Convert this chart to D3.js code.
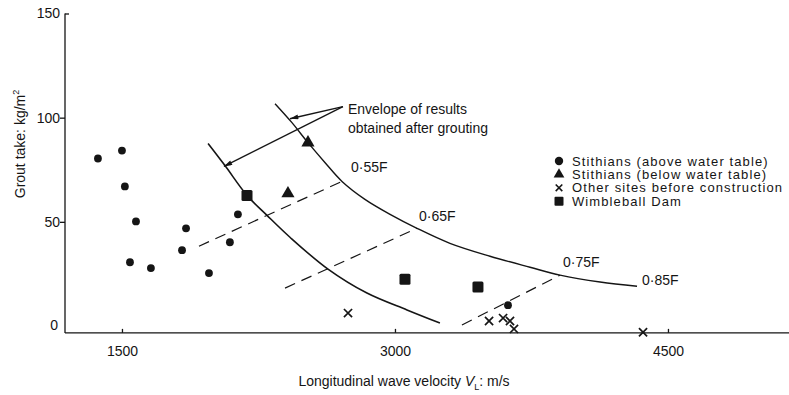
<!DOCTYPE html>
<html>
<head>
<meta charset="utf-8">
<script src="https://cdn.jsdelivr.net/npm/d3@7"></script>
<style>
  html, body { margin: 0; padding: 0; background: #fff; }
  svg { display: block; font-family: "Liberation Sans", Arial, Helvetica, sans-serif; }
  text { fill: #151515; }
</style>
</head>
<body>
<svg id="chart" width="789" height="395"></svg>
<script>
// ---------------- data ----------------
const xTicks = [1500, 3000, 4500];
const yTicks = [0, 50, 100, 150];

// Stithians (above water table)
const aboveVel   = [1368, 1500, 1516, 1577, 1852, 1830, 1544, 1659, 1978, 2137, 2093, 3621];
const aboveGrout = [80.4, 84.2, 67.0, 50.2, 46.9, 36.4, 30.6, 27.8, 25.4, 53.6, 40.2, 10.0];

// Stithians (below water table)
const belowVel   = [2522, 2412];
const belowGrout = [88.0, 63.6];

// Other sites before construction
const otherVel   = [2742, 3517, 3594, 3632, 3654, 4363];
const otherGrout = [6.2, 2.4, 3.8, 2.4, -1.4, -3.0];

// Wimbleball Dam
const wimbVel   = [2187, 3055, 3456];
const wimbGrout = [62.7, 22.5, 18.7];

// Envelope curves
const rightEnvVel   = [2341, 2434, 2522, 2615, 2709, 2835, 2973, 3121, 3302, 3522, 3742, 3907, 4127, 4330];
const rightEnvGrout = [106.7, 97.6, 88.0, 78.5, 69.4, 60.8, 53.6, 46.9, 39.7, 33.5, 28.2, 24.4, 21.1, 19.1];
const leftEnvVel    = [1973, 2066, 2187, 2297, 2423, 2632, 2846, 3066, 3247];
const leftEnvGrout  = [87.6, 77.0, 62.7, 53.1, 42.6, 27.3, 15.8, 7.7, 1.4];

// Dashed iso-lines (start / end) and their labels
const isoLabels   = ["0·55F", "0·65F", "0·75F"];
const isoStartVel = [1923, 2396, 3368];
const isoStartGr  = [38.3, 18.2, 0.5];
const isoEndVel   = [2709, 3121, 3907];
const isoEndGr    = [69.4, 46.9, 24.4];
const endLabel    = "0·85F";

// Annotation arrows
const annoText   = ["Envelope of results", "obtained after grouting"];
const annoFrom   = [2714, 105.3];
const annoToVel  = [2423, 2060];
const annoToGr   = [99.5, 76.6];

const legendLabels = [
  "Stithians (above water table)",
  "Stithians (below water table)",
  "Other sites before construction",
  "Wimbleball Dam"
];

// ---------------- layout ----------------
const svg = d3.select("#chart");
const ink = "#151515";

const x = d3.scaleLinear().domain([1187, 5165]).range([65, 789]);
const y = d3.scaleLinear().domain([0, 150]).range([326, 13.5]);
const yBase = -3.3;

// axes lines
svg.append("line")
  .attr("x1", x(1187)).attr("x2", x(5165))
  .attr("y1", y(yBase)).attr("y2", y(yBase))
  .attr("stroke", ink).attr("stroke-width", 1.3);
svg.append("line")
  .attr("x1", x(1187)).attr("x2", x(1187))
  .attr("y1", y(yBase)).attr("y2", y(150))
  .attr("stroke", ink).attr("stroke-width", 1.3);

// x axis
const xAxis = svg.append("g")
  .attr("transform", `translate(0,${y(yBase)})`)
  .call(d3.axisBottom(x).tickValues(xTicks).tickFormat(d3.format("d"))
        .tickSizeInner(-4).tickSizeOuter(0).tickPadding(13));
xAxis.select(".domain").remove();
xAxis.selectAll("line").attr("stroke", ink).attr("stroke-width", 1.3);
xAxis.selectAll("text").attr("font-size", 14).attr("font-family", null).style("fill", ink);

// y axis
const yAxis = svg.append("g")
  .attr("transform", `translate(${x(1187)},0)`)
  .call(d3.axisLeft(y).tickValues(yTicks).tickFormat(d3.format("d"))
        .tickSizeInner(5).tickSizeOuter(0).tickPadding(0));
yAxis.select(".domain").remove();
yAxis.selectAll("line").attr("stroke", ink).attr("stroke-width", 1.3);
yAxis.selectAll(".tick").filter(d => d === 0).select("line").remove();
yAxis.selectAll(".tick").filter(d => d === 150).select("line").attr("x2", 4);
yAxis.selectAll(".tick").filter(d => d === 0).select("text").attr("y", -1).attr("x", -7);
yAxis.selectAll("text").attr("font-size", 14).attr("font-family", null).style("fill", ink);

// axis titles
const xt = svg.append("text")
  .attr("x", 404).attr("y", 386)
  .attr("text-anchor", "middle").attr("font-size", 14);
xt.append("tspan").text("Longitudinal wave velocity ");
xt.append("tspan").attr("font-style", "italic").text("V");
xt.append("tspan").attr("font-size", 9).attr("dy", 4).text("L");
xt.append("tspan").attr("dy", -4).text(": m/s");

const yt = svg.append("text")
  .attr("transform", "translate(25,144) rotate(-90)")
  .attr("text-anchor", "middle").attr("font-size", 14);
yt.append("tspan").text("Grout take: kg/m");
yt.append("tspan").attr("font-size", 9).attr("dy", -6).text("2");

// ---------------- curves ----------------
const line = d3.line().x(d => x(d[0])).y(d => y(d[1])).curve(d3.curveCatmullRom.alpha(0.5));

svg.append("path")
  .attr("d", line(rightEnvVel.map((v, i) => [v, rightEnvGrout[i]])))
  .attr("fill", "none").attr("stroke", ink).attr("stroke-width", 1.4);
svg.append("path")
  .attr("d", line(leftEnvVel.map((v, i) => [v, leftEnvGrout[i]])))
  .attr("fill", "none").attr("stroke", ink).attr("stroke-width", 1.6);

// dashed iso-lines
isoLabels.forEach((lab, i) => {
  svg.append("line")
    .attr("x1", x(isoStartVel[i])).attr("y1", y(isoStartGr[i]))
    .attr("x2", x(isoEndVel[i])).attr("y2", y(isoEndGr[i]))
    .attr("stroke", ink).attr("stroke-width", 1.2)
    .attr("stroke-dasharray", "11,7");
});
const isoOffsets = [[9, -9], [2, -7], [3, -8]];
isoLabels.forEach((lab, i) => {
  svg.append("text")
    .attr("x", x(isoEndVel[i]) + isoOffsets[i][0])
    .attr("y", y(isoEndGr[i]) + isoOffsets[i][1])
    .attr("font-size", 14).text(lab);
});
const lastR = rightEnvVel.length - 1;
svg.append("text")
  .attr("x", x(rightEnvVel[lastR]) + 5)
  .attr("y", y(rightEnvGrout[lastR]) - 1)
  .attr("font-size", 14).text(endLabel);

// ---------------- annotation ----------------
svg.append("defs").append("marker")
  .attr("id", "arr").attr("viewBox", "0 0 10 6")
  .attr("refX", 10).attr("refY", 3)
  .attr("markerWidth", 10).attr("markerHeight", 5)
  .attr("markerUnits", "userSpaceOnUse")
  .attr("orient", "auto")
  .append("path").attr("d", "M0,0 L10,3 L0,6 Z").attr("fill", ink);

annoToVel.forEach((v, i) => {
  svg.append("line")
    .attr("x1", x(annoFrom[0])).attr("y1", y(annoFrom[1]))
    .attr("x2", x(v)).attr("y2", y(annoToGr[i]))
    .attr("stroke", ink).attr("stroke-width", 1.4)
    .attr("marker-end", "url(#arr)");
});
annoText.forEach((t, i) => {
  svg.append("text")
    .attr("x", x(annoFrom[0]) + 5)
    .attr("y", y(annoFrom[1]) + 7 + i * 19)
    .attr("font-size", 14).text(t);
});

// ---------------- points ----------------
const sym = (type, size) => d3.symbol().type(type).size(size)();

svg.append("g").selectAll("circle")
  .data(aboveVel.map((v, i) => [v, aboveGrout[i]]))
  .join("circle")
  .attr("cx", d => x(d[0])).attr("cy", d => y(d[1]))
  .attr("r", 3.9).attr("fill", ink);

svg.append("g").selectAll("path")
  .data(belowVel.map((v, i) => [v, belowGrout[i]]))
  .join("path")
  .attr("transform", d => `translate(${x(d[0])},${y(d[1])})`)
  .attr("d", sym(d3.symbolTriangle, 75)).attr("fill", ink);

svg.append("g").selectAll("path")
  .data(otherVel.map((v, i) => [v, otherGrout[i]]))
  .join("path")
  .attr("transform", d => `translate(${x(d[0])},${y(d[1])})`)
  .attr("d", sym(d3.symbolX, 45)).attr("fill", "none")
  .attr("stroke", ink).attr("stroke-width", 1.7);

svg.append("g").selectAll("rect")
  .data(wimbVel.map((v, i) => [v, wimbGrout[i]]))
  .join("rect")
  .attr("x", d => x(d[0]) - 5.5).attr("y", d => y(d[1]) - 5.5)
  .attr("width", 11).attr("height", 11).attr("rx", 1.5)
  .attr("fill", ink);

// ---------------- legend ----------------
const lg = svg.append("g").attr("transform", "translate(559,161)");
const rowH = 13.4;
legendLabels.forEach((t, i) => {
  const g = lg.append("g").attr("transform", `translate(0,${i * rowH})`);
  if (i === 0) g.append("circle").attr("r", 4.2).attr("fill", ink);
  if (i === 1) g.append("path").attr("d", sym(d3.symbolTriangle, 50)).attr("fill", ink);
  if (i === 2) g.append("path").attr("d", sym(d3.symbolX, 30)).attr("fill", "none")
                 .attr("stroke", ink).attr("stroke-width", 1.6);
  if (i === 3) g.append("rect").attr("x", -4.5).attr("y", -4.5).attr("width", 9).attr("height", 9)
                 .attr("rx", 1).attr("fill", ink);
  g.append("text").attr("x", 13).attr("y", 4.5)
    .attr("font-size", 13).attr("letter-spacing", 1.1).text(t);
});
</script>
</body>
</html>
